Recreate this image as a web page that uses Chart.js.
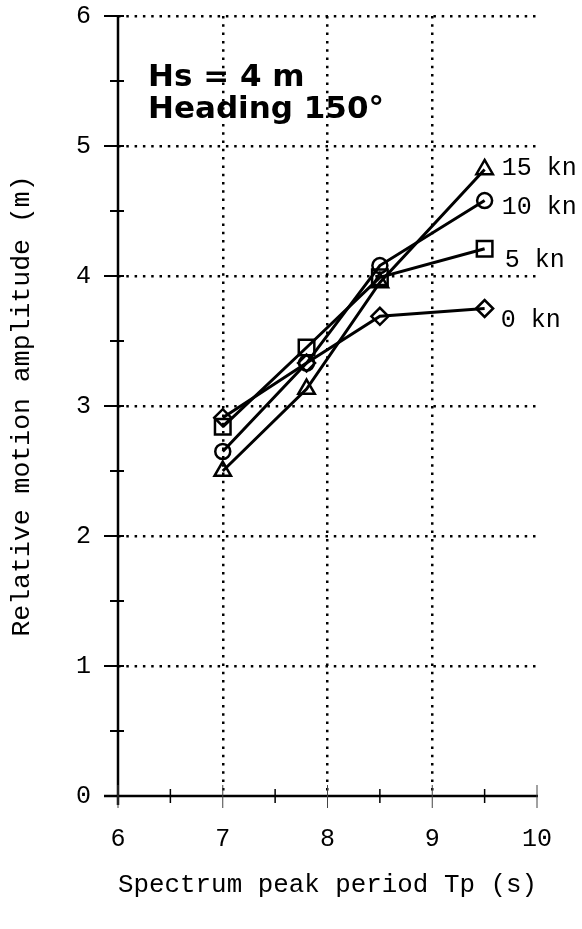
<!DOCTYPE html>
<html>
<head>
<meta charset="utf-8">
<title>Relative motion amplitude vs Tp</title>
<script src="https://cdn.jsdelivr.net/npm/chart.js@4.4.1/dist/chart.umd.min.js"></script>
<style>
    html, body { margin: 0; padding: 0; background: #fff; }
    canvas { display: block; }
</style>
</head>
<body>
<canvas id="motionChart" width="582" height="929"></canvas>
<script>
// Chart data
const periods = [7, 7.8, 8.5, 9.5];
const amp0kn = [2.91, 3.33, 3.69, 3.75];
const amp5kn = [2.84, 3.45, 3.99, 4.21];
const amp10kn = [2.65, 3.33, 4.08, 4.58];
const amp15kn = [2.50, 3.13, 3.95, 4.82];
const speedLabels = ['0 kn', '5 kn', '10 kn', '15 kn'];
const xTicks = [6, 7, 8, 9, 10];
const yTicks = [0, 1, 2, 3, 4, 5, 6];
const titleLines = ['Hs = 4 m', 'Heading 150\u00b0'];

// Marker style per speed
const markerStyles = [
    { shape: 'rectRot', radius: 8.5 },
    { shape: 'rect', radius: 11 },
    { shape: 'circle', radius: 7.5 },
    { shape: 'triangle', radius: 9.5 }
];
// Offsets of the end labels from the last point (px)
const labelOffsets = [
    { dx: 16, dy: 18 },
    { dx: 20, dy: 18 },
    { dx: 17, dy: 13 },
    { dx: 17, dy: 6 }
];

const monoFont = "'Liberation Mono', 'Courier New', monospace";

function toPoints(values) {
    return periods.map((p, i) => ({ x: p, y: values[i] }));
}

// Axis lines, crossing ticks, end labels and the inset title
const decorPlugin = {
    id: 'decor',
    afterDatasetsDraw(chart) {
        const ctx = chart.ctx;
        const xs = chart.scales.x;
        const ys = chart.scales.y;
        const area = chart.chartArea;
        ctx.save();

        // axis lines
        ctx.strokeStyle = '#000';
        ctx.lineWidth = 2.5;
        ctx.beginPath();
        ctx.moveTo(area.left, area.top);
        ctx.lineTo(area.left, area.bottom + 9);
        ctx.moveTo(area.left - 14, area.bottom);
        ctx.lineTo(area.right + 1, area.bottom);
        ctx.stroke();

        // y ticks (major + half steps)
        ctx.lineWidth = 2;
        ctx.beginPath();
        for (let v = 0; v <= 6; v += 0.5) {
            const py = ys.getPixelForValue(v);
            const major = Number.isInteger(v);
            ctx.moveTo(area.left - (major ? 14 : 8), py);
            ctx.lineTo(area.left + 6, py);
        }
        ctx.stroke();

        // x ticks
        for (let v = 6; v <= 10; v += 0.5) {
            const px = xs.getPixelForValue(v);
            const major = Number.isInteger(v);
            ctx.beginPath();
            ctx.lineWidth = major ? 1 : 1.5;
            ctx.strokeStyle = major ? '#444' : '#000';
            ctx.moveTo(px, area.bottom - (major ? 11 : 7));
            ctx.lineTo(px, area.bottom + (major ? 12 : 7));
            ctx.stroke();
        }

        // labels at the end of each line
        ctx.fillStyle = '#000';
        ctx.font = '25px ' + monoFont;
        ctx.textAlign = 'left';
        ctx.textBaseline = 'alphabetic';
        chart.data.datasets.forEach((ds, i) => {
            const meta = chart.getDatasetMeta(i);
            const last = meta.data[meta.data.length - 1];
            ctx.fillText(ds.label, last.x + labelOffsets[i].dx, last.y + labelOffsets[i].dy);
        });

        // inset title
        ctx.font = "bold 31px 'DejaVu Sans', sans-serif";
        ctx.fillText(titleLines[0], 148, 86);
        ctx.fillText(titleLines[1], 148, 118);
        ctx.restore();
    }
};

function makeDataset(label, values, i) {
    return {
        label: label,
        data: toPoints(values),
        showLine: true,
        borderColor: '#000',
        borderWidth: 3,
        backgroundColor: 'transparent',
        pointStyle: markerStyles[i].shape,
        pointRadius: markerStyles[i].radius,
        pointBorderWidth: 2.5,
        pointBorderColor: '#000',
        pointBackgroundColor: 'transparent'
    };
}

document.addEventListener('DOMContentLoaded', function() {
    const ctx = document.getElementById('motionChart').getContext('2d');
    new Chart(ctx, {
        type: 'scatter',
        data: {
            datasets: [
                makeDataset(speedLabels[0], amp0kn, 0),
                makeDataset(speedLabels[1], amp5kn, 1),
                makeDataset(speedLabels[2], amp10kn, 2),
                makeDataset(speedLabels[3], amp15kn, 3)
            ]
        },
        options: {
            responsive: false,
            animation: false,
            layout: { padding: { top: 16, right: 45, left: 0, bottom: 0 } },
            plugins: {
                legend: { display: false },
                tooltip: { enabled: false }
            },
            scales: {
                x: {
                    type: 'linear',
                    min: xTicks[0],
                    max: xTicks[xTicks.length - 1],
                    afterFit: scale => {
                        scale.height = 133;
                        scale.paddingLeft = 0;
                        scale.paddingRight = 0;
                    },
                    afterBuildTicks: scale => { scale.ticks = xTicks.map(v => ({ value: v })); },
                    ticks: {
                        color: '#000',
                        padding: 28,
                        font: { family: monoFont, size: 25 }
                    },
                    grid: {
                        drawTicks: false,
                        lineWidth: 2.5,
                        color: c => (c.tick && (c.tick.value === 6 || c.tick.value === 10)) ? 'rgba(0,0,0,0)' : '#000'
                    },
                    border: { display: false, dash: [2.5, 5.8] },
                    title: {
                        display: true,
                        text: 'Spectrum peak period Tp (s)',
                        color: '#000',
                        font: { family: monoFont, size: 26.5 },
                        padding: { top: 0, bottom: 28 }
                    }
                },
                y: {
                    type: 'linear',
                    min: yTicks[0],
                    max: yTicks[yTicks.length - 1],
                    afterFit: scale => {
                        scale.width = 118;
                        scale.paddingTop = 0;
                        scale.paddingBottom = 0;
                    },
                    afterBuildTicks: scale => { scale.ticks = yTicks.map(v => ({ value: v })); },
                    ticks: {
                        color: '#000',
                        padding: 27,
                        font: { family: monoFont, size: 25 }
                    },
                    grid: {
                        drawTicks: false,
                        lineWidth: 2.5,
                        color: c => (c.tick && c.tick.value === 0) ? 'rgba(0,0,0,0)' : '#000'
                    },
                    border: { display: false, dash: [2.5, 5.8] },
                    title: {
                        display: true,
                        text: 'Relative motion amplitude (m)',
                        color: '#000',
                        font: { family: monoFont, size: 26.5 },
                        padding: { top: 6, bottom: 0 }
                    }
                }
            }
        },
        plugins: [decorPlugin]
    });
});
</script>
</body>
</html>
